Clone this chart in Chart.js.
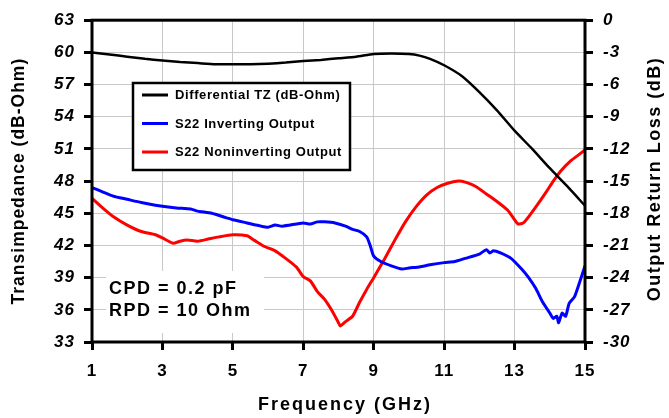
<!DOCTYPE html>
<html>
<head>
<meta charset="utf-8">
<script src="https://cdn.jsdelivr.net/npm/chart.js@4/dist/chart.umd.min.js"></script>
<style>
  html, body { margin: 0; padding: 0; background: #fff; }
</style>
</head>
<body>
<canvas id="chart" width="669" height="418"></canvas>
<script>
// ---- DATA ----
const xTicks = [1, 3, 5, 7, 9, 11, 13, 15];
const leftTicks = [33, 36, 39, 42, 45, 48, 51, 54, 57, 60, 63];
const rightTicks = [-30, -27, -24, -21, -18, -15, -12, -9, -6, -3, 0];

const seriesNames = ['Differential TZ (dB-Ohm)', 'S22 Inverting Output', 'S22 Noninverting Output'];
const noteLines = ['CPD = 0.2 pF', 'RPD = 10 Ohm'];

// differential transimpedance (left axis, dB-Ohm)
const tzFreq = [1, 1.5, 2, 2.5, 3, 3.5, 4, 4.5, 5, 5.5, 6, 6.5, 7, 7.5, 8, 8.5, 9, 9.5, 10, 10.3, 10.6, 11, 11.5, 12, 12.5, 13, 13.5, 14, 14.5, 15];
const tzValues = [60.0, 59.8, 59.6, 59.4, 59.25, 59.1, 59.0, 58.9, 58.9, 58.9, 58.95, 59.05, 59.2, 59.3, 59.45, 59.6, 59.85, 59.9, 59.85, 59.7, 59.4, 58.8, 57.8, 56.3, 54.6, 52.7, 51.0, 49.2, 47.5, 45.7];

// S22 inverting output (right axis, dB)
const invFreq = [1.0, 1.3, 1.6, 2.0, 2.4, 2.8, 3.0, 3.4, 3.8, 4.0, 4.4, 4.8, 5.0, 5.4, 5.8, 6.0, 6.2, 6.4, 6.8, 7.0, 7.2, 7.4, 7.6, 7.9, 8.2, 8.4, 8.6, 8.8, 8.9, 9.0, 9.2, 9.5, 9.8, 10.0, 10.3, 10.6, 11.0, 11.3, 11.6, 12.0, 12.2, 12.3, 12.4, 12.6, 12.9, 13.2, 13.4, 13.6, 13.8, 14.0, 14.1, 14.2, 14.25, 14.35, 14.45, 14.55, 14.7, 14.85, 15.0];
const invValues = [-15.6, -16.0, -16.4, -16.7, -17.0, -17.25, -17.35, -17.5, -17.6, -17.8, -18.0, -18.4, -18.6, -18.9, -19.2, -19.3, -19.1, -19.2, -19.0, -18.9, -19.0, -18.8, -18.8, -18.9, -19.2, -19.5, -19.7, -20.2, -21.0, -22.0, -22.5, -22.9, -23.2, -23.1, -23.0, -22.8, -22.6, -22.5, -22.2, -21.8, -21.4, -21.7, -21.5, -21.7, -22.2, -23.2, -24.0, -25.0, -26.3, -27.3, -27.8, -27.6, -28.2, -27.3, -27.6, -26.4, -25.8, -24.4, -22.9];

// S22 noninverting output (right axis, dB)
const nonFreq = [1.0, 1.3, 1.6, 2.0, 2.4, 2.8, 3.0, 3.3, 3.5, 3.7, 4.0, 4.3, 4.6, 5.0, 5.4, 5.6, 5.9, 6.2, 6.5, 6.8, 7.0, 7.2, 7.4, 7.6, 7.8, 8.0, 8.05, 8.2, 8.4, 8.6, 8.8, 9.0, 9.3, 9.6, 9.9, 10.2, 10.5, 10.8, 11.1, 11.4, 11.6, 11.9, 12.2, 12.5, 12.8, 13.0, 13.1, 13.25, 13.45, 13.65, 13.9, 14.1, 14.3, 14.6, 14.8, 15.0];
const nonValues = [-16.6, -17.5, -18.3, -19.1, -19.7, -20.0, -20.3, -20.8, -20.6, -20.5, -20.6, -20.4, -20.2, -20.0, -20.1, -20.5, -21.1, -21.5, -22.2, -23.0, -23.9, -24.3, -25.3, -26.0, -27.0, -28.2, -28.5, -28.1, -27.6, -26.3, -25.1, -24.0, -22.3, -20.5, -18.8, -17.4, -16.3, -15.6, -15.2, -15.0, -15.1, -15.5, -16.2, -16.9, -17.7, -18.6, -19.0, -18.9, -18.1, -17.2, -16.0, -15.0, -14.1, -13.1, -12.6, -12.1];

// ---- HELPERS ----
function pts(xs, ys){ return xs.map((x, i) => ({ x, y: ys[i] })); }
const FONT = '"Liberation Sans", Arial, sans-serif';
const colors = ['#000000', '#0000ff', '#ff0000'];

// ---- PLUGIN: frame, titles, legend box, note ----
const decor = {
  id: 'decor',
  beforeDraw(chart){
    chart.ctx.letterSpacing = '1px';
  },
  beforeDatasetsDraw(chart){
    const ctx = chart.ctx;
    // white box behind the note
    ctx.save();
    ctx.fillStyle = '#fff';
    ctx.fillRect(106, 271, 158, 62);
    ctx.restore();
  },
  afterDraw(chart){
    const ctx = chart.ctx;
    const a = chart.chartArea;
    ctx.save();
    // frame
    ctx.strokeStyle = '#000';
    ctx.lineWidth = 3;
    ctx.strokeRect(a.left, a.top, a.right - a.left, a.bottom - a.top);

    // note text
    ctx.fillStyle = '#000';
    ctx.font = 'bold 18px ' + FONT;
    ctx.letterSpacing = '1.5px';
    ctx.textAlign = 'left';
    ctx.textBaseline = 'middle';
    ctx.fillText(noteLines[0], 109, 289);
    ctx.fillText(noteLines[1], 109, 311);

    // legend box
    ctx.fillStyle = '#fff';
    ctx.fillRect(133, 83, 217, 87);
    ctx.lineWidth = 2.5;
    ctx.strokeRect(133, 83, 217, 87);
    ctx.font = 'bold 13px ' + FONT;
    ctx.letterSpacing = '0.6px';
    const rows = [95, 123.5, 152];
    seriesNames.forEach((n, i) => {
      ctx.strokeStyle = colors[i];
      ctx.lineWidth = 3;
      ctx.beginPath();
      ctx.moveTo(142, rows[i]);
      ctx.lineTo(168, rows[i]);
      ctx.stroke();
      ctx.fillStyle = '#000';
      ctx.fillText(n, 175, rows[i] + 0.5);
    });

    // axis titles
    ctx.font = 'bold 18px ' + FONT;
    ctx.letterSpacing = '2px';
    ctx.textAlign = 'center';
    ctx.fillText('Frequency (GHz)', 345, 405);
    ctx.letterSpacing = '1.5px';
    ctx.translate(655, 179);
    ctx.rotate(-Math.PI / 2);
    ctx.fillText('Output Return Loss (dB)', 0, 0);
    ctx.restore();
  }
};

// ---- CHART ----
const gridStyle = { color: '#c8c8c8', lineWidth: 1, tickLength: 8, tickColor: '#000', tickWidth: 3 };

new Chart(document.getElementById('chart'), {
  type: 'line',
  data: {
    datasets: [
      { label: seriesNames[0], data: pts(tzFreq, tzValues), yAxisID: 'yL', borderColor: colors[0], borderWidth: 2.5 },
      { label: seriesNames[1], data: pts(invFreq, invValues), yAxisID: 'yR', borderColor: colors[1], borderWidth: 3 },
      { label: seriesNames[2], data: pts(nonFreq, nonValues), yAxisID: 'yR', borderColor: colors[2], borderWidth: 3 }
    ]
  },
  options: {
    responsive: false,
    animation: false,
    devicePixelRatio: 1,
    layout: { padding: { top: 16, left: 0, right: 0, bottom: 0 } },
    elements: { point: { radius: 0 }, line: { tension: 0.2, fill: false } },
    plugins: { legend: { display: false }, tooltip: { enabled: false } },
    scales: {
      x: {
        type: 'linear', min: 1, max: 15,
        afterBuildTicks: s => { s.ticks = xTicks.map(v => ({ value: v })); },
        afterFit: s => { s.height = 76; },
        grid: gridStyle,
        border: { display: false },
        ticks: { padding: 11, color: '#000', font: { family: FONT, size: 17, weight: 'bold' } }
      },
      yL: {
        type: 'linear', position: 'left', min: 33, max: 63,
        afterBuildTicks: s => { s.ticks = leftTicks.map(v => ({ value: v })); },
        afterFit: s => { s.width = 92; },
        grid: gridStyle,
        border: { display: false },
        ticks: { padding: 9, color: '#000', font: { family: FONT, size: 17, weight: 'bold', style: 'italic' } },
        title: { display: true, text: 'Transimpedance (dB-Ohm)', color: '#000', padding: { top: 9 }, font: { family: FONT, size: 17.5, weight: 'bold' } }
      },
      yR: {
        type: 'linear', position: 'right', min: -30, max: 0,
        afterBuildTicks: s => { s.ticks = rightTicks.map(v => ({ value: v })); },
        afterFit: s => { s.width = 84; },
        grid: { ...gridStyle, drawOnChartArea: false },
        border: { display: false },
        ticks: { padding: 10, color: '#000', font: { family: FONT, size: 17, weight: 'bold', style: 'italic' } }
      }
    }
  },
  plugins: [decor]
});
</script>
</body>
</html>
